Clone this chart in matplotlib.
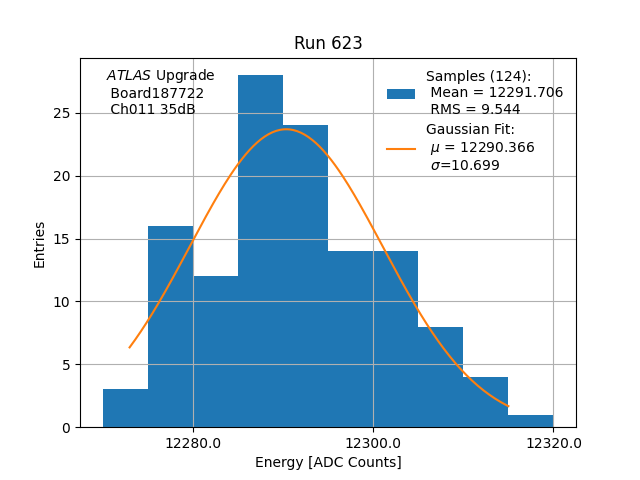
import numpy as np
import matplotlib
matplotlib.use("Agg")
import matplotlib.pyplot as plt
from matplotlib.ticker import FormatStrFormatter

bin_edges = [12270, 12275, 12280, 12285, 12290, 12295, 12300, 12305, 12310, 12315, 12320]
counts = [3, 16, 12, 28, 24, 14, 14, 8, 4, 1]
fit_mu = 12290.366
fit_sigma = 10.699
fit_amp = 23.7
fit_range = [12273, 12315]
mean_val = 12291.706
rms_val = 9.544
n_samples = 124

fig, ax = plt.subplots(figsize=(6.4, 4.8), dpi=100)
centers = [(a + b) / 2 for a, b in zip(bin_edges[:-1], bin_edges[1:])]
ax.hist(centers, bins=bin_edges, weights=counts,
        label=f"Samples ({n_samples}):\n Mean = {mean_val:.3f}\n RMS = {rms_val:.3f}")
xs = np.linspace(fit_range[0], fit_range[1], 200)
ys = fit_amp * np.exp(-0.5 * ((xs - fit_mu) / fit_sigma) ** 2)
ax.plot(xs, ys, color="tab:orange",
        label=f"Gaussian Fit:\n $\\mu$ = {fit_mu:.3f}\n $\\sigma$={fit_sigma:.3f}")
ax.grid(True)
ax.set_xticks([12280, 12300, 12320])
ax.xaxis.set_major_formatter(FormatStrFormatter("%.1f"))
ax.set_xlabel("Energy [ADC Counts]")
ax.set_ylabel("Entries")
ax.set_title("Run 623")
ax.text(0.053, 0.975, "$ATLAS$ Upgrade\n Board187722\n Ch011 35dB",
        transform=ax.transAxes, va="top", ha="left")
ax.legend(loc="upper right", frameon=False)
fig.savefig("out.png")
